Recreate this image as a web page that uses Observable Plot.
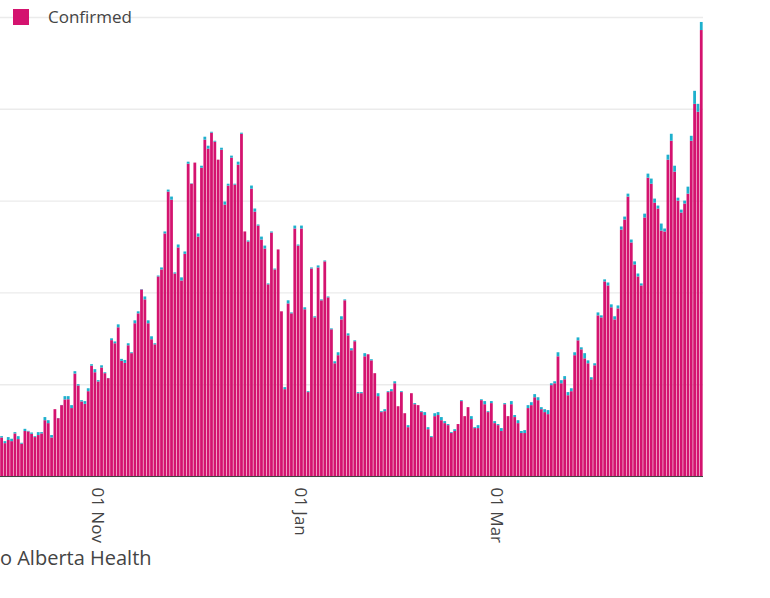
<!DOCTYPE html>
<html><head><meta charset="utf-8">
<script src="https://cdn.jsdelivr.net/npm/d3@7"></script>
<script src="https://cdn.jsdelivr.net/npm/@observablehq/plot@0.6"></script>
<style>
body{margin:0;background:#fff;font-family:"Open Sans",sans-serif;}
#wrap{position:relative;width:770px;}
#legend{position:absolute;left:13px;top:6px;display:flex;align-items:center;font-size:17px;color:#444;line-height:22px;}
#legend .sw{display:inline-block;width:16px;height:16px;background:#d4136f;margin-right:19px;}
#caption{font-size:20px;color:#444;margin-top:-1px;line-height:22px;white-space:nowrap;}
</style></head><body>
<div id="wrap"><div id="chart"></div><div id="legend"><span class="sw"></span>Confirmed</div></div>
<div id="caption">o Alberta Health</div>
<script>
const startDate = new Date(Date.UTC(2020, 9, 3));
const confirmed = [
210,179,196,190,232,201,176,245,243,230,212,223,232,304,288,210,364,315,386,417,418,370,558,493,406,393,462,601,565,515,591,560,533,
740,723,
810,627,616,712,669,832,886,1016,962,832,745,717,1087,1125,1321,1549,1505,1103,1245,1065,1210,1701,1592,1707,1304,1679,1832,1783,1870,1821,1723,1777,1478,1582,1734,1587,
1696,1864,1332,1277,1565,1440,1364,1288,1239,1044,1326,1125,1234,897,473,940,886,1348,1255,1348,908,457,1130,864,1136,957,1169,973,799,614,658,853,957,766,685,
734,451,451,652,663,630,560,435,348,353,457,462,505,380,457,342,266,451,391,386,348,332,255,212,326,332,304,288,277,234,245,283,408,326,
375,310,261,261,413,391,348,397,288,277,245,391,326,391,321,288,234,234,370,386,429,413,364,348,337,495,505,652,505,527,440,462,658,739,
690,641,614,527,603,875,864,1060,1038,919,853,913,1342,1397,1522,1272,1152,1087,1038,1408,1625,1592,1489,1457,1337,1332,1723,1826,1658,1500,1435,1484,1538,1826,2027,1984,2429
];
const probable = [
7,11,16,13,7,16,5,12,3,7,5,16,7,17,16,13,0,1,1,18,17,16,13,7,7,15,16,8,17,7,12,5,1,
10,10,
16,11,16,11,5,16,11,2,16,16,16,6,5,11,11,11,17,6,16,17,13,11,2,0,17,11,16,16,5,5,0,11,17,10,11,5,
16,6,0,6,17,17,6,16,16,5,6,5,0,0,11,17,5,16,6,16,11,5,6,6,11,5,5,5,5,11,16,17,5,11,11,
5,6,6,17,0,6,0,16,5,11,5,11,11,0,5,0,11,0,6,0,5,16,11,5,16,16,17,11,6,5,10,0,5,0,
0,16,5,16,5,17,5,11,11,6,16,6,0,17,11,16,11,16,16,16,17,16,11,16,22,10,11,22,17,17,17,16,16,16,
11,28,16,11,11,16,11,11,16,16,17,16,17,16,16,16,17,16,11,21,22,28,22,16,38,16,27,38,32,16,16,16,38,27,71,43,44
];
const seriesNames = ["Confirmed", "Probable"];
const seriesColors = ["#d4136f", "#1eb0cd"];
const xTickDates = [new Date(Date.UTC(2020,10,1)), new Date(Date.UTC(2021,0,1)), new Date(Date.UTC(2021,2,1))];
const yTicks = [0, 500, 1000, 1500, 2000, 2500];

const rows = [];
confirmed.forEach((v, i) => {
  const d = d3.utcDay.offset(startDate, i);
  rows.push({date: d, type: "Confirmed", value: v});
  rows.push({date: d, type: "Probable", value: probable[i]});
});

const chart = Plot.plot({
  width: 770, height: 548,
  marginLeft: 0, marginRight: 67, marginTop: 17, marginBottom: 72,
  style: {fontFamily: "Open Sans", fontSize: "17px", color: "#444", background: "#fff", overflow: "visible"},
  x: {type: "utc", domain: [startDate, d3.utcDay.offset(startDate, confirmed.length)],
      ticks: xTickDates, tickFormat: d3.utcFormat("%d %b"), tickRotate: 90, tickSize: 0, tickPadding: 11, label: null},
  y: {domain: [0, 2500], axis: null},
  color: {domain: seriesNames, range: seriesColors},
  marks: [
    Plot.gridY(yTicks, {stroke: "#ebebeb", strokeOpacity: 1, strokeWidth: 1.4}),
    Plot.rectY(rows, {x: "date", y: "value", fill: "type", interval: "day", insetLeft: 0.2, insetRight: 0.35}),
    Plot.ruleY([0], {stroke: "#444", strokeWidth: 1.2})
  ]
});
document.getElementById("chart").appendChild(chart);
</script>
</body></html>
